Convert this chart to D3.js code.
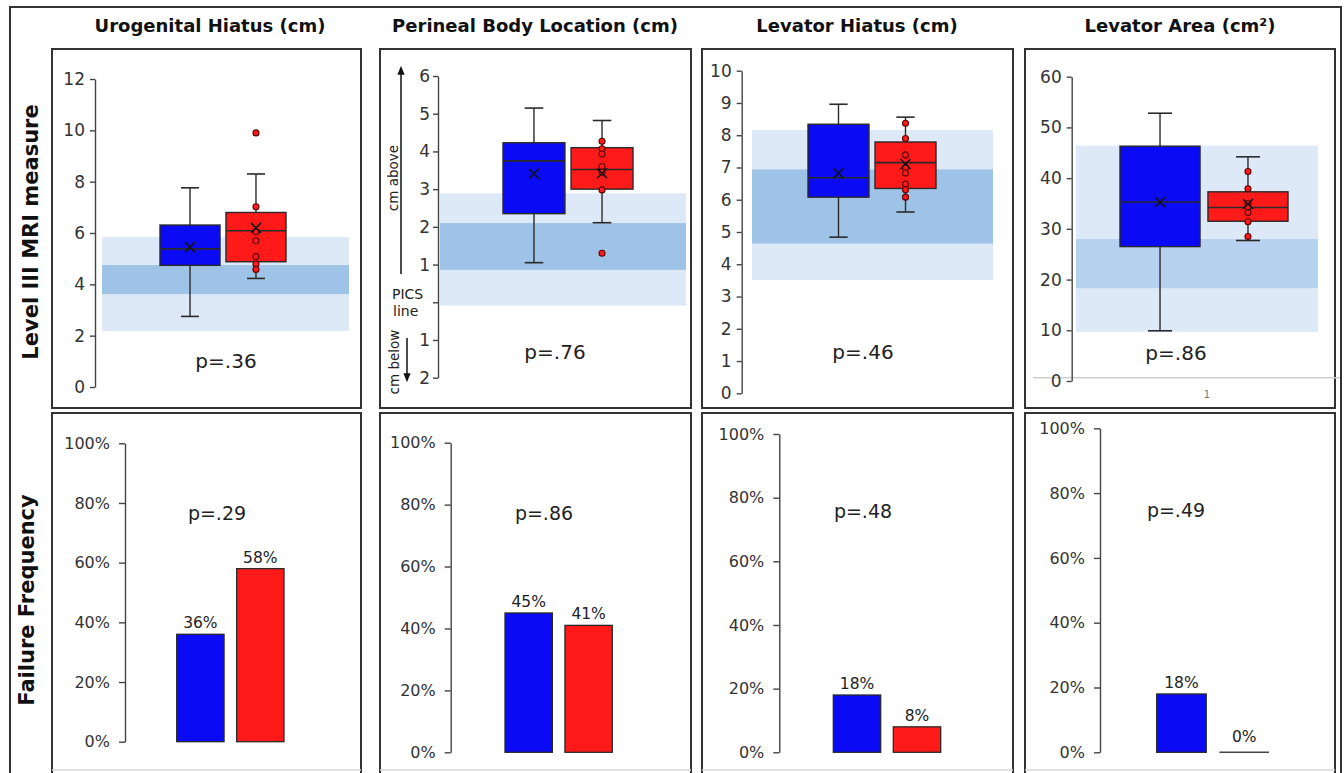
<!DOCTYPE html>
<html>
<head>
<meta charset="utf-8">
<script src="https://cdn.jsdelivr.net/npm/d3@7"></script>
<style>
  body { margin: 0; background: #fff; }
  svg { display: block; font-family: "DejaVu Sans", sans-serif; }
</style>
</head>
<body>
<script>

// ---- data ----
var titles = ["Urogenital Hiatus (cm)", "Perineal Body Location (cm)", "Levator Hiatus (cm)", "Levator Area (cm\u00B2)"];
var groups = ["blue", "red"];

var axisMin = [0, -2, 0, 0];
var axisMax = [12, 6, 10, 60];
var tickStep = [2, 1, 1, 10];

// normal range bands (light = outer, dark = inner)
var outerLow = [2.18, -0.09, 3.51, 9.7];
var outerHigh = [5.84, 2.89, 8.16, 46.4];
var innerLow = [3.62, 0.86, 4.64, 18.3];
var innerHigh = [4.75, 2.1, 6.94, 28.0];

// box plots
var blueLow = [2.75, 1.05, 4.84, 9.9];
var blueQ1 = [4.74, 2.35, 6.08, 26.5];
var blueMedian = [5.38, 3.75, 6.68, 35.3];
var blueQ3 = [6.31, 4.23, 8.34, 46.3];
var blueHigh = [7.76, 5.15, 8.96, 52.8];
var blueMean = [5.45, 3.41, 6.82, 35.3];

var redLow = [4.23, 2.11, 5.62, 27.7];
var redQ1 = [4.88, 3.0, 6.35, 31.5];
var redMedian = [6.09, 3.52, 7.15, 34.2];
var redQ3 = [6.8, 4.1, 7.79, 37.3];
var redHigh = [8.3, 4.82, 8.56, 44.2];
var redMean = [6.2, 3.42, 7.11, 34.9];

var redPoints = [
  [7.02, 6.05, 5.7, 5.08, 4.79, 4.58],
  [4.27, 4.07, 3.93, 3.6, 3.45, 2.98],
  [8.37, 7.9, 7.39, 7.0, 6.83, 6.49, 6.31, 6.08],
  [41.3, 37.9, 35.0, 34.3, 33.2, 31.4, 28.5]
];
var redOutliers = [[9.9], [1.3], [], []];

var pTop = ["p=.36", "p=.76", "p=.46", "p=.86"];

// failure frequency (%)
var failBlue = [36, 45, 18, 18];
var failRed = [58, 41, 8, 0];
var pBottom = ["p=.29", "p=.86", "p=.48", "p=.49"];
var pctTicks = [0, 20, 40, 60, 80, 100];

// ---- layout ----
var topLayout = [
  { x: 52, w: 309, axisX: 95, y0: 387, y1: 79, band: [102, 349], box: [160, 286], px: 226, py: 368, tx: 210, dark: "#9fc3e6" },
  { x: 380, w: 311, axisX: 438, y0: 377.7, y1: 76, band: [440, 686], box: [503, 633], px: 555, py: 359, tx: 535, dark: "#9fc3e6" },
  { x: 702, w: 311, axisX: 741.7, y0: 393.3, y1: 70.7, band: [752, 993], box: [808, 936], px: 863, py: 359, tx: 857, dark: "#9fc3e6" },
  { x: 1025, w: 310, axisX: 1071.7, y0: 381, y1: 76.7, band: [1076, 1318], box: [1120, 1288], px: 1176, py: 360, tx: 1180, dark: "#b6d2ee" }
];
var bottomLayout = [
  { axisX: 125, y0: 741.7, y1: 443.3, bars: [176.7, 284], px: 217, py: 520 },
  { axisX: 450.7, y0: 752.3, y1: 442.7, bars: [505, 612.3], px: 544, py: 520 },
  { axisX: 779.3, y0: 752.3, y1: 434, bars: [833.3, 940.7], px: 863, py: 518 },
  { axisX: 1100, y0: 752.3, y1: 428.3, bars: [1156.7, 1269], px: 1176, py: 517 }
];

var blueFill = "#0a0af5";
var redFill = "#ff1a1a";
var lineCol = "#2a2a2a";

var svg = d3.select("body").append("svg")
    .attr("width", 1344)
    .attr("height", 773);

// outer frame
svg.append("rect")
    .attr("x", 10).attr("y", 7)
    .attr("width", 1331).attr("height", 800)
    .attr("fill", "none").attr("stroke", "#333").attr("stroke-width", 2);

// row labels
svg.append("text")
    .attr("transform", "translate(38,232) rotate(-90)")
    .attr("text-anchor", "middle")
    .attr("font-size", "21px").attr("font-weight", "bold").attr("fill", "#111")
    .text("Level III MRI measure");
svg.append("text")
    .attr("transform", "translate(34,600) rotate(-90)")
    .attr("text-anchor", "middle")
    .attr("font-size", "21px").attr("font-weight", "bold").attr("fill", "#111")
    .text("Failure Frequency");

function styleAxis(g, size) {
  g.select(".domain").attr("stroke", "#444").attr("stroke-width", 1.4);
  g.selectAll(".tick line").attr("stroke", "#444").attr("stroke-width", 1.4);
  g.selectAll(".tick text")
      .attr("fill", "#333")
      .attr("font-size", size)
      .attr("font-family", "DejaVu Sans, sans-serif");
}

// ---- top row: box plots ----
topLayout.forEach(function(L, i) {
  svg.append("text")
      .attr("x", L.tx).attr("y", 32)
      .attr("text-anchor", "middle")
      .attr("font-size", "18px").attr("font-weight", "bold").attr("fill", "#111")
      .text(titles[i]);

  svg.append("rect")
      .attr("x", L.x).attr("y", 49)
      .attr("width", L.w).attr("height", 359)
      .attr("fill", "#fff").attr("stroke", "#333").attr("stroke-width", 2);

  var y = d3.scaleLinear().domain([axisMin[i], axisMax[i]]).range([L.y0, L.y1]);
  var x = d3.scaleBand().domain(groups).range(L.box).paddingInner(0.09);
  var g = svg.append("g");

  // reference bands
  g.append("rect")
      .attr("x", L.band[0]).attr("width", L.band[1] - L.band[0])
      .attr("y", y(outerHigh[i])).attr("height", y(outerLow[i]) - y(outerHigh[i]))
      .attr("fill", "#dde9f6");
  g.append("rect")
      .attr("x", L.band[0]).attr("width", L.band[1] - L.band[0])
      .attr("y", y(innerHigh[i])).attr("height", y(innerLow[i]) - y(innerHigh[i]))
      .attr("fill", L.dark);

  if (i === 3) {
    // faint category axis left over from the spreadsheet
    g.append("line")
        .attr("x1", 1033).attr("x2", 1340)
        .attr("y1", y(0.65)).attr("y2", y(0.65))
        .attr("stroke", "#cfcfcf").attr("stroke-width", 1.5);
    g.append("text")
        .attr("x", 1207).attr("y", 398)
        .attr("text-anchor", "middle")
        .attr("font-size", "10px").attr("fill", "#777")
        .text("1");
  }

  var ticks = d3.range(axisMin[i], axisMax[i] + tickStep[i] / 2, tickStep[i]);
  var ax = d3.axisLeft(y)
      .tickValues(ticks)
      .tickSize(5).tickSizeOuter(0).tickPadding(i === 1 ? 3 : 5)
      .tickFormat(function(d) {
        if (i === 1) return d === 0 ? "" : Math.abs(d);
        return d;
      });
  var axg = g.append("g").attr("transform", "translate(" + L.axisX + ",0)").call(ax);
  styleAxis(axg, "17px");

  var stats = {
    blue: { lo: blueLow[i], q1: blueQ1[i], med: blueMedian[i], q3: blueQ3[i], hi: blueHigh[i], mean: blueMean[i], fill: blueFill },
    red: { lo: redLow[i], q1: redQ1[i], med: redMedian[i], q3: redQ3[i], hi: redHigh[i], mean: redMean[i], fill: redFill }
  };

  groups.forEach(function(k) {
    var s = stats[k];
    var x0 = x(k), w = x.bandwidth(), cx = x0 + w / 2, cap = w * 0.15;
    // whiskers
    g.append("line").attr("x1", cx).attr("x2", cx).attr("y1", y(s.hi)).attr("y2", y(s.q3))
        .attr("stroke", lineCol).attr("stroke-width", 1.4);
    g.append("line").attr("x1", cx).attr("x2", cx).attr("y1", y(s.q1)).attr("y2", y(s.lo))
        .attr("stroke", lineCol).attr("stroke-width", 1.4);
    [s.hi, s.lo].forEach(function(v) {
      g.append("line").attr("x1", cx - cap).attr("x2", cx + cap).attr("y1", y(v)).attr("y2", y(v))
          .attr("stroke", lineCol).attr("stroke-width", 1.6);
    });
    // box
    g.append("rect")
        .attr("x", x0).attr("width", w)
        .attr("y", y(s.q3)).attr("height", y(s.q1) - y(s.q3))
        .attr("fill", s.fill).attr("stroke", lineCol).attr("stroke-width", 1.4);
    g.append("line").attr("x1", x0).attr("x2", x0 + w).attr("y1", y(s.med)).attr("y2", y(s.med))
        .attr("stroke", lineCol).attr("stroke-width", 1.6);

    if (k === "red") {
      g.selectAll(null)
          .data(redPoints[i].concat(redOutliers[i]))
          .enter().append("circle")
          .attr("cx", cx).attr("cy", function(d) { return y(d); })
          .attr("r", 3)
          .attr("fill", redFill).attr("stroke", "#5a0000").attr("stroke-width", 1.1);
    }
    // mean marker
    var my = y(s.mean), m = 5;
    g.append("path")
        .attr("d", "M" + (cx - m) + "," + (my - m) + "L" + (cx + m) + "," + (my + m) +
                   "M" + (cx - m) + "," + (my + m) + "L" + (cx + m) + "," + (my - m))
        .attr("stroke", "#111").attr("stroke-width", 1.5);
  });

  if (i === 1) {
    // PICS line annotation
    var defs = svg.append("defs");
    defs.append("marker").attr("id", "head")
        .attr("viewBox", "0 0 10 10").attr("refX", 5).attr("refY", 5)
        .attr("markerWidth", 6).attr("markerHeight", 7).attr("orient", "auto")
        .append("path").attr("d", "M0,1L10,5L0,9Z").attr("fill", "#111");
    g.append("line").attr("x1", 401).attr("x2", 401).attr("y1", y(0.75)).attr("y2", y(6.15))
        .attr("stroke", "#111").attr("stroke-width", 1.5).attr("marker-end", "url(#head)");
    g.append("line").attr("x1", 407).attr("x2", 407).attr("y1", y(-0.95)).attr("y2", y(-2.0))
        .attr("stroke", "#111").attr("stroke-width", 1.5).attr("marker-end", "url(#head)");
    g.append("text").attr("transform", "translate(398,178) rotate(-90)")
        .attr("text-anchor", "middle").attr("font-size", "13.5px").attr("fill", "#222")
        .text("cm above");
    g.append("text").attr("transform", "translate(399,362) rotate(-90)")
        .attr("text-anchor", "middle").attr("font-size", "13.5px").attr("fill", "#222")
        .text("cm below");
    g.append("text").attr("x", 392).attr("y", 299)
        .attr("font-size", "14px").attr("fill", "#222").text("PICS");
    g.append("text").attr("x", 393).attr("y", 316)
        .attr("font-size", "14px").attr("fill", "#222").text("line");
  }

  g.append("text")
      .attr("x", L.px).attr("y", L.py)
      .attr("text-anchor", "middle")
      .attr("font-size", "20px").attr("fill", "#222")
      .text(pTop[i]);
});

// ---- bottom row: failure frequency bars ----
bottomLayout.forEach(function(L, i) {
  var T = topLayout[i];
  svg.append("rect")
      .attr("x", T.x).attr("y", 413)
      .attr("width", T.w).attr("height", 400)
      .attr("fill", "#fff").attr("stroke", "#333").attr("stroke-width", 2);
  svg.append("line")
      .attr("x1", T.x).attr("x2", T.x + T.w).attr("y1", 770).attr("y2", 770)
      .attr("stroke", "#d8d8d8").attr("stroke-width", 1.5);

  var y = d3.scaleLinear().domain([0, 100]).range([L.y0, L.y1]);
  var x = d3.scaleBand().domain(groups).range(L.bars).paddingInner(0.21);
  var g = svg.append("g");

  var ax = d3.axisLeft(y)
      .tickValues(pctTicks)
      .tickSize(6).tickSizeOuter(0).tickPadding(9)
      .tickFormat(function(d) { return d + "%"; });
  var axg = g.append("g").attr("transform", "translate(" + L.axisX + ",0)").call(ax);
  styleAxis(axg, "16px");

  var vals = [
    { k: "blue", v: failBlue[i], fill: blueFill },
    { k: "red", v: failRed[i], fill: redFill }
  ];

  vals.forEach(function(b) {
    var x0 = x(b.k), w = x.bandwidth();
    if (b.v > 0) {
      g.append("rect")
          .attr("x", x0).attr("width", w)
          .attr("y", y(b.v)).attr("height", y(0) - y(b.v))
          .attr("fill", b.fill).attr("stroke", lineCol).attr("stroke-width", 1.3);
    } else {
      g.append("line")
          .attr("x1", x0).attr("x2", x0 + w).attr("y1", y(0)).attr("y2", y(0))
          .attr("stroke", "#444").attr("stroke-width", 1.5);
    }
    g.append("text")
        .attr("x", x0 + w / 2).attr("y", y(b.v) - (b.v > 0 ? 6 : 10))
        .attr("text-anchor", "middle")
        .attr("font-size", "15.5px").attr("fill", "#222")
        .text(b.v + "%");
  });

  g.append("text")
      .attr("x", L.px).attr("y", L.py)
      .attr("text-anchor", "middle")
      .attr("font-size", "19px").attr("fill", "#222")
      .text(pBottom[i]);
});

</script>
</body>
</html>
